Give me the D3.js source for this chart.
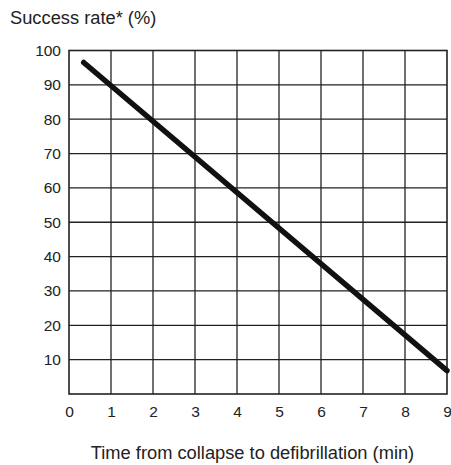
<!DOCTYPE html>
<html>
<head>
<meta charset="utf-8">
<script src="https://cdn.jsdelivr.net/npm/d3@7"></script>
<style>
  body { margin: 0; background: #fff; }
  text { font-family: "Liberation Sans", Arial, sans-serif; fill: #222; }
</style>
</head>
<body>
<script>
var svgWidth = 451;
var svgHeight = 465;

// data
var minutes = [0.35, 9];
var successRate = [96.5, 6.8];
var xTicks = [0, 1, 2, 3, 4, 5, 6, 7, 8, 9];
var yTicks = [10, 20, 30, 40, 50, 60, 70, 80, 90, 100];
var yTitle = "Success rate* (%)";
var xTitle = "Time from collapse to defibrillation (min)";

var margin = { top: 50.5, right: 4, bottom: 71, left: 69 };
var width = svgWidth - margin.left - margin.right;
var height = svgHeight - margin.top - margin.bottom;

var svg = d3.select("body")
  .append("svg")
  .attr("width", svgWidth)
  .attr("height", svgHeight);

var chartGroup = svg.append("g")
  .attr("transform", `translate(${margin.left}, ${margin.top})`);

var x = d3.scaleLinear().domain([0, 9]).range([0, width]);
var y = d3.scaleLinear().domain([0, 100]).range([height, 0]);

// grid
chartGroup.append("g")
  .selectAll("line")
  .data(xTicks.slice(1, -1))
  .enter().append("line")
  .attr("x1", d => x(d)).attr("x2", d => x(d))
  .attr("y1", 0).attr("y2", height)
  .attr("stroke", "#222").attr("stroke-width", 1.3);

chartGroup.append("g")
  .selectAll("line")
  .data(yTicks.slice(0, -1))
  .enter().append("line")
  .attr("x1", 0).attr("x2", width)
  .attr("y1", d => y(d)).attr("y2", d => y(d))
  .attr("stroke", "#222").attr("stroke-width", 1.3);

chartGroup.append("rect")
  .attr("x", 0).attr("y", 0)
  .attr("width", width).attr("height", height)
  .attr("fill", "none")
  .attr("stroke", "#222").attr("stroke-width", 1.6);

// axes (labels only)
var bottomAxis = d3.axisBottom(x).tickValues(xTicks).tickSize(0).tickPadding(12);
var leftAxis = d3.axisLeft(y).tickValues(yTicks).tickSize(0).tickPadding(8);

var bx = chartGroup.append("g")
  .attr("transform", `translate(0, ${height})`)
  .call(bottomAxis);
var ly = chartGroup.append("g").call(leftAxis);

[bx, ly].forEach(function(g) {
  g.select(".domain").remove();
  g.selectAll("text")
    .style("font-family", "'Liberation Sans', Arial, sans-serif")
    .style("font-size", "15.5px")
    .attr("fill", "#222");
});

// line
var points = minutes.map((m, i) => [m, successRate[i]]);
chartGroup.append("path")
  .datum(points)
  .attr("d", d3.line().x(d => x(d[0])).y(d => y(d[1])))
  .attr("fill", "none")
  .attr("stroke", "#111")
  .attr("stroke-width", 5.5)
  .attr("stroke-linecap", "round");

// titles
svg.append("text")
  .attr("x", 10).attr("y", 24)
  .style("font-size", "18.3px")
  .text(yTitle);

svg.append("text")
  .attr("x", 252.5).attr("y", 459)
  .attr("text-anchor", "middle")
  .style("font-size", "18.3px")
  .text(xTitle);
</script>
</body>
</html>
